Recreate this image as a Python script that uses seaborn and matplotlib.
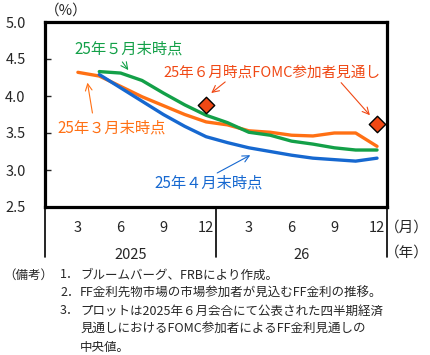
import matplotlib
matplotlib.use("Agg")
import matplotlib.pyplot as plt
import matplotlib.transforms as mtransforms
import seaborn as sns
import pandas as pd

# ---- data (x = month index, Jan 2025 = 1) ----
months_mar = [3, 4.5, 6, 7.5, 9, 10.5, 12, 13.5, 15, 16.5, 18, 19.5, 21, 22.5, 24]
rate_mar = [4.32, 4.27, 4.13, 3.99, 3.87, 3.75, 3.65, 3.61, 3.53, 3.51, 3.47, 3.46, 3.50, 3.50, 3.32]

months_apr = [4.5, 6, 7.5, 9, 10.5, 12, 13.5, 15, 16.5, 18, 19.5, 21, 22.5, 24]
rate_apr = [4.29, 4.11, 3.93, 3.75, 3.59, 3.45, 3.37, 3.30, 3.25, 3.20, 3.16, 3.14, 3.12, 3.16]

months_may = [4.5, 6, 7.5, 9, 10.5, 12, 13.5, 15, 16.5, 18, 19.5, 21, 22.5, 24]
rate_may = [4.33, 4.31, 4.21, 4.04, 3.88, 3.74, 3.64, 3.51, 3.47, 3.39, 3.35, 3.30, 3.27, 3.27]

fomc_months = [12, 24]
fomc_rate = [3.875, 3.625]

yticks = [2.5, 3.0, 3.5, 4.0, 4.5, 5.0]
xticks = [3, 6, 9, 12, 15, 18, 21, 24]
xtick_labels = ["3", "6", "9", "12", "3", "6", "9", "12"]
years = ["2025", "26"]

series_labels = ["25年３月末時点", "25年４月末時点", "25年５月末時点"]
fomc_label = "25年６月時点FOMC参加者見通し"
notes = [
    ("（備考）", "1．", "ブルームバーグ、FRBにより作成。"),
    ("", "2．", "FF金利先物市場の市場参加者が見込むFF金利の推移。"),
    ("", "3．", "プロットは2025年６月会合にて公表された四半期経済"),
    ("", "", "見通しにおけるFOMC参加者によるFF金利見通しの"),
    ("", "", "中央値。"),
]

C_ORANGE = "#FF7014"
C_BLUE = "#1668D0"
C_GREEN = "#13A048"
C_RED = "#F04814"

sns.set_theme(style="white")
plt.rcParams['font.family'] = ['Noto Sans CJK JP', 'DejaVu Sans']

df = pd.concat([
    pd.DataFrame({"m": months_mar, "v": rate_mar, "s": series_labels[0]}),
    pd.DataFrame({"m": months_apr, "v": rate_apr, "s": series_labels[1]}),
    pd.DataFrame({"m": months_may, "v": rate_may, "s": series_labels[2]}),
])

W, H = 430, 355
fig = plt.figure(figsize=(W / 100, H / 100), dpi=100)
ax = fig.add_axes([45 / W, 1 - 207 / H, (387 - 45) / W, (207 - 22) / H])

sns.lineplot(data=df, x="m", y="v", hue="s",
             palette={series_labels[0]: C_ORANGE, series_labels[1]: C_BLUE, series_labels[2]: C_GREEN},
             linewidth=2.4, legend=False, ax=ax, sort=False)
sns.scatterplot(x=fomc_months, y=fomc_rate, marker="D", s=70, color=C_RED,
                edgecolor="black", linewidth=1.0, ax=ax, zorder=5, legend=False)

ax.set_xlim(0.69, 24.7)
ax.set_ylim(2.5, 5.0)
ax.set_xlabel("")
ax.set_ylabel("")
for sp in ax.spines.values():
    sp.set_visible(True)
    sp.set_color("black")
    sp.set_linewidth(2.3)

ax.set_yticks(yticks)
ax.set_yticklabels([f"{v:.1f}" for v in yticks], fontsize=10.5)
ax.tick_params(axis="y", direction="in", length=4, width=1, left=True, pad=14)
ax.set_xticks(xticks)
ax.set_xticklabels(xtick_labels, fontsize=10.5)
ax.tick_params(axis="x", length=0, pad=10)

# separators below axis
trans = mtransforms.blended_transform_factory(ax.transData, ax.transAxes)
for xv in [0.69, 12.7, 24.7]:
    ax.plot([xv, xv], [0, -50 / 185], transform=trans, color="black", lw=1.2, clip_on=False)
ax.text(6.7, -48 / 185, years[0], transform=trans, ha="center", va="center", fontsize=10.5)
ax.text(18.7, -48 / 185, years[1], transform=trans, ha="center", va="center", fontsize=10.5)
fig.text(407 / W, 1 - 228 / H, "（月）", ha="center", va="center", fontsize=10.5)
fig.text(407 / W, 1 - 253 / H, "（年）", ha="center", va="center", fontsize=10.5)
fig.text(45 / W, 1 - 11 / H, "（%）", ha="left", va="center", fontsize=10.5)

# labels
ax.text(6.54, 4.64, series_labels[2], color=C_GREEN, fontsize=11, ha="center", va="center")
ax.text(5.35, 3.57, series_labels[0], color=C_ORANGE, fontsize=11, ha="center", va="center")
ax.text(12.2, 2.82, series_labels[1], color=C_BLUE, fontsize=11, ha="center", va="center")
ax.text(16.65, 4.32, fomc_label, color=C_RED, fontsize=10.5, ha="center", va="center")

# arrows (tail -> head)
arrows = [
    ((6.12, 4.46), (6.54, 4.35), C_GREEN),
    ((4.02, 3.77), (3.67, 4.18), C_ORANGE),
    ((12.78, 2.96), (15.1, 3.20), C_BLUE),
    ((13.34, 4.19), (12.36, 4.04), C_RED),
    ((21.48, 4.18), (23.5, 3.74), C_RED),
]
for tail, head, col in arrows:
    ax.annotate("", xy=head, xytext=tail,
                arrowprops=dict(arrowstyle="->", color=col, lw=0.8, shrinkA=0, shrinkB=0))

# notes
y0 = 275
for i, (a, b, c) in enumerate(notes):
    y = 1 - (y0 + i * 18) / H
    if a:
        fig.text(3 / W, y, a, fontsize=9, ha="left", va="center")
    if b:
        fig.text(60 / W, y, b, fontsize=9, ha="left", va="center")
    fig.text(80 / W, y, c, fontsize=9, ha="left", va="center")

fig.savefig("out.png", dpi=100)
